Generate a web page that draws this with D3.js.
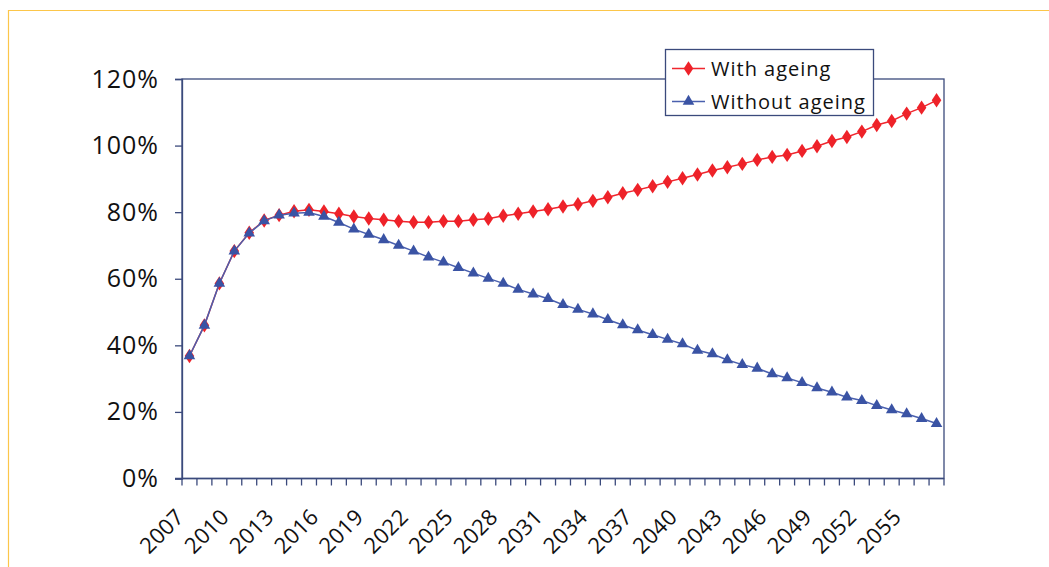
<!DOCTYPE html>
<html>
<head>
<meta charset="utf-8">
<script src="https://cdn.jsdelivr.net/npm/d3@7"></script>
<style>
  html, body { margin: 0; padding: 0; background: #fff; }
  svg { display: block; font-family: "Open Sans", "Noto Sans", sans-serif; }
</style>
</head>
<body>
<svg id="chart" width="1049" height="567"></svg>
<script>
// Years on the category axis
const years = d3.range(2007, 2058);

// Ratio (%) with ageing effects
const withAgeing = [
  36.8, 46.0, 58.6, 68.3, 73.8, 77.5, 79.1, 80.3, 80.7, 80.2,
  79.5, 78.7, 78.1, 77.7, 77.3, 77.0, 77.0, 77.3, 77.3, 77.7,
  78.0, 78.9, 79.5, 80.2, 80.9, 81.7, 82.4, 83.4, 84.5, 85.7,
  86.7, 87.8, 89.1, 90.2, 91.3, 92.5, 93.5, 94.5, 95.7, 96.6,
  97.2, 98.4, 99.8, 101.4, 102.6, 104.2, 106.2, 107.4, 109.6, 111.4,
  113.6
];

// Ratio (%) without ageing effects
const withoutAgeing = [
  36.8, 46.0, 58.6, 68.3, 73.7, 77.4, 79.1, 79.7, 79.9, 78.7,
  76.9, 74.9, 73.3, 71.7, 70.0, 68.3, 66.5, 65.0, 63.3, 61.7,
  60.1, 58.6, 56.8, 55.4, 54.0, 52.2, 50.8, 49.4, 47.7, 46.1,
  44.6, 43.2, 41.8, 40.4, 38.5, 37.4, 35.6, 34.2, 33.1, 31.4,
  30.2, 28.8, 27.2, 25.9, 24.4, 23.4, 21.9, 20.6, 19.4, 18.0,
  16.5
];

const yTicks = [0, 20, 40, 60, 80, 100, 120];
const labelledYears = years.filter(y => (y - 2007) % 3 === 0);

const seriesNames = ["With ageing", "Without ageing"];

const svg = d3.select("#chart");
const axisColor = "#3b4a7c";
const redLine = "#f0262e";
const redColor = "#ee2229";
const blueLine = "#4a60ae";
const blueColor = "#3a53a4";

// Outer frame (top and left edges)
svg.append("path")
  .attr("d", "M8.5,567 V10.5 H1049")
  .attr("fill", "none")
  .attr("stroke", "#fcc64a")
  .attr("stroke-width", 1.2);

const plot = { left: 182, right: 944, top: 79, bottom: 478.5 };

const x = d3.scaleBand().domain(years).range([plot.left, plot.right]).padding(0);
const y = d3.scaleLinear().domain([0, 120]).range([plot.bottom, plot.top]);
const cx = d => x(d) + x.bandwidth() / 2;

// Plot border
svg.append("rect")
  .attr("x", plot.left).attr("y", plot.top)
  .attr("width", plot.right - plot.left).attr("height", plot.bottom - plot.top)
  .attr("fill", "none").attr("stroke", axisColor).attr("stroke-width", 1.3);

// Y axis
const yAxis = d3.axisLeft(y).tickValues(yTicks).tickSize(7).tickPadding(16)
  .tickFormat(d => d + "%");
const gy = svg.append("g").attr("transform", `translate(${plot.left},0)`).call(yAxis);
gy.select(".domain").attr("stroke", axisColor).attr("stroke-width", 1.3);
gy.selectAll(".tick line").attr("stroke", axisColor).attr("stroke-width", 1.3);
gy.selectAll(".tick text").attr("fill", "#111").style("font-size", "25px")
  .style("letter-spacing", "1px")
  .style("font-family", "'Open Sans', sans-serif");

// X axis: ticks at category boundaries
const boundaries = years.map(d => x(d)).concat([plot.right]);
const gx = svg.append("g");
gx.append("line")
  .attr("x1", plot.left - 7).attr("x2", plot.right)
  .attr("y1", plot.bottom).attr("y2", plot.bottom)
  .attr("stroke", axisColor).attr("stroke-width", 1.3);
gx.selectAll("line.tick").data(boundaries).join("line")
  .attr("class", "tick")
  .attr("x1", d => d).attr("x2", d => d)
  .attr("y1", plot.bottom).attr("y2", plot.bottom + 7)
  .attr("stroke", axisColor).attr("stroke-width", 1.3);
gx.selectAll("text").data(labelledYears).join("text")
  .attr("transform", d => `translate(${cx(d) - 4},${plot.bottom + 40}) rotate(-45)`)
  .attr("text-anchor", "end")
  .attr("fill", "#111")
  .style("font-size", "22px")
  .style("letter-spacing", "0.3px")
  .text(d => d);

// Lines and markers: "with ageing" underneath, "without ageing" on top
const line = vals => d3.line().x((d, i) => cx(years[i])).y(d => y(d))(vals);
const diamond = d3.symbol().type(d3.symbolDiamond).size(60);
const triangle = d3.symbol().type(d3.symbolTriangle).size(58);

svg.append("path").attr("d", line(withAgeing))
  .attr("fill", "none").attr("stroke", redLine).attr("stroke-width", 1.5);
svg.append("g").selectAll("path").data(withAgeing).join("path")
  .attr("d", diamond)
  .attr("transform", (d, i) => `translate(${cx(years[i])},${y(d)}) scale(1.15,1)`)
  .attr("fill", redColor);

svg.append("path").attr("d", line(withoutAgeing))
  .attr("fill", "none").attr("stroke", blueLine).attr("stroke-width", 1.5);
svg.append("g").selectAll("path").data(withoutAgeing).join("path")
  .attr("d", triangle)
  .attr("transform", (d, i) => `translate(${cx(years[i])},${y(d)})`)
  .attr("fill", blueColor);

// Legend
const lg = svg.append("g");
lg.append("rect")
  .attr("x", 665.5).attr("y", 49.5).attr("width", 208).attr("height", 66)
  .attr("fill", "#fff").attr("stroke", axisColor).attr("stroke-width", 1.3);

const legendRows = [
  { name: seriesNames[0], color: redLine, fill: redColor, sym: diamond, y: 68.5, sx: 1.15 },
  { name: seriesNames[1], color: blueLine, fill: blueColor, sym: triangle, y: 101.5, sx: 1 }
];
legendRows.forEach(r => {
  lg.append("line").attr("x1", 672).attr("x2", 705).attr("y1", r.y).attr("y2", r.y)
    .attr("stroke", r.color).attr("stroke-width", 1.5);
  lg.append("path").attr("d", r.sym)
    .attr("transform", `translate(688.5,${r.y}) scale(${r.sx},1)`)
    .attr("fill", r.fill);
  lg.append("text").attr("x", 711).attr("y", r.y).attr("dy", "0.35em")
    .attr("fill", "#111").style("font-size", "20px").style("letter-spacing", "1px")
    .text(r.name);
});
</script>
</body>
</html>
